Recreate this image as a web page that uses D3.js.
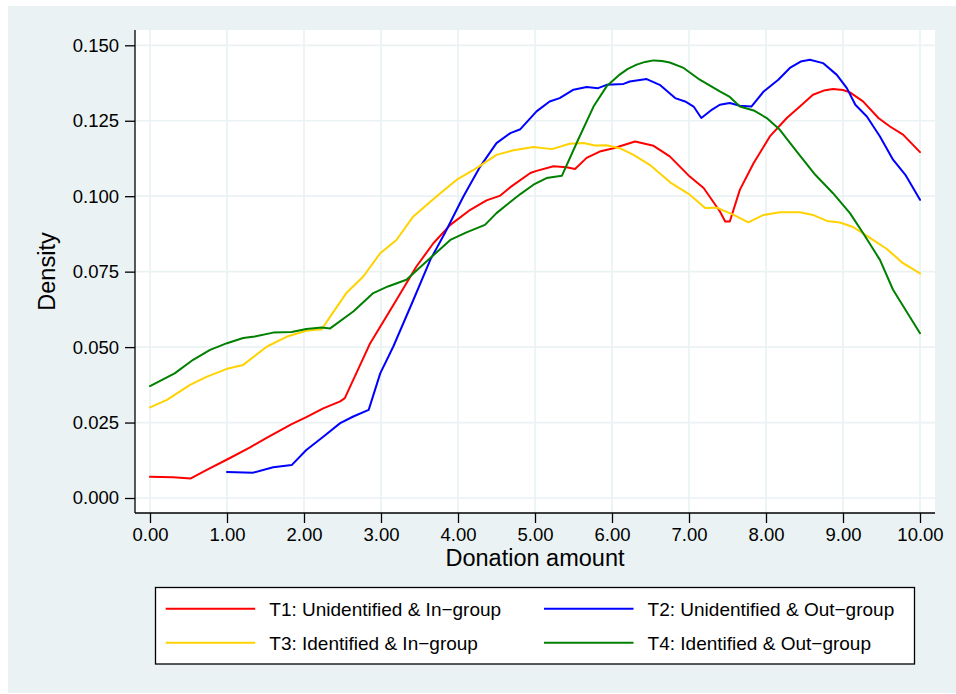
<!DOCTYPE html>
<html>
<head>
<meta charset="utf-8">
<script src="https://cdn.jsdelivr.net/npm/d3@7"></script>
<style>
  html, body { margin: 0; padding: 0; background: #ffffff; }
  svg { display: block; font-family: "Liberation Sans", Arial, Helvetica, sans-serif; }
</style>
</head>
<body>
<svg id="chart" width="956" height="694"></svg>
<script>
// Kernel density of donation amount by treatment, evaluated as [amount, density]
const t1Unidentified_In = [
  [0.00, 0.0070], [0.30, 0.0069], [0.53, 0.0065], [0.75, 0.0095], [1.02, 0.0130],
  [1.30, 0.0168], [1.52, 0.0200], [1.84, 0.0245], [2.03, 0.0268], [2.25, 0.0297],
  [2.47, 0.0320], [2.53, 0.0331], [2.86, 0.0513], [3.20, 0.0656], [3.46, 0.0767],
  [3.68, 0.0844], [3.90, 0.0905], [4.16, 0.0955], [4.37, 0.0986], [4.55, 0.1002],
  [4.68, 0.1030], [4.94, 0.1077], [5.02, 0.1084], [5.24, 0.1099], [5.41, 0.1096],
  [5.52, 0.1090], [5.67, 0.1127], [5.84, 0.1148], [6.02, 0.1159], [6.30, 0.1181],
  [6.54, 0.1167], [6.75, 0.1132], [7.01, 0.1065], [7.19, 0.1027], [7.40, 0.0950],
  [7.47, 0.0916], [7.53, 0.0916], [7.66, 0.1021], [7.84, 0.1110], [8.05, 0.1198],
  [8.27, 0.1259], [8.44, 0.1297], [8.61, 0.1336], [8.75, 0.1350], [8.87, 0.1355],
  [9.00, 0.1352], [9.09, 0.1344], [9.26, 0.1314], [9.46, 0.1259], [9.61, 0.1231],
  [9.78, 0.1204], [10.00, 0.1146]
];
const t2Unidentified_Out = [
  [1.00, 0.0086], [1.34, 0.0084], [1.60, 0.0102], [1.84, 0.0109], [2.03, 0.0159],
  [2.25, 0.0203], [2.47, 0.0248], [2.64, 0.0270], [2.84, 0.0292], [2.99, 0.0413],
  [3.16, 0.0502], [3.42, 0.0656], [3.64, 0.0789], [3.83, 0.0878], [4.07, 0.0999],
  [4.29, 0.1099], [4.50, 0.1176], [4.68, 0.1209], [4.81, 0.1222], [5.02, 0.1281],
  [5.19, 0.1314], [5.32, 0.1325], [5.50, 0.1353], [5.67, 0.1362], [5.82, 0.1358],
  [5.93, 0.1369], [6.15, 0.1372], [6.23, 0.1380], [6.45, 0.1388], [6.62, 0.1369],
  [6.82, 0.1325], [6.95, 0.1314], [7.06, 0.1297], [7.16, 0.1259], [7.30, 0.1287],
  [7.40, 0.1303], [7.53, 0.1309], [7.66, 0.1300], [7.81, 0.1297], [7.97, 0.1347],
  [8.16, 0.1386], [8.31, 0.1425], [8.45, 0.1446], [8.57, 0.1452], [8.74, 0.1441],
  [8.92, 0.1402], [9.05, 0.1358], [9.16, 0.1303], [9.31, 0.1264], [9.48, 0.1198],
  [9.65, 0.1121], [9.81, 0.1071], [10.00, 0.0988]
];
const t3Identified_In = [
  [0.00, 0.0300], [0.22, 0.0325], [0.52, 0.0375], [0.74, 0.0402], [1.00, 0.0428],
  [1.21, 0.0441], [1.52, 0.0502], [1.78, 0.0535], [2.03, 0.0554], [2.23, 0.0559],
  [2.34, 0.0601], [2.55, 0.0679], [2.77, 0.0734], [2.99, 0.0811], [3.20, 0.0855],
  [3.42, 0.0933], [3.72, 0.0999], [3.98, 0.1054], [4.24, 0.1093], [4.50, 0.1137],
  [4.72, 0.1152], [4.98, 0.1163], [5.22, 0.1156], [5.45, 0.1174], [5.63, 0.1176],
  [5.78, 0.1168], [5.93, 0.1169], [6.10, 0.1159], [6.28, 0.1137], [6.49, 0.1104],
  [6.77, 0.1043], [7.01, 0.1005], [7.21, 0.0961], [7.36, 0.0962], [7.58, 0.0938],
  [7.77, 0.0913], [7.97, 0.0938], [8.18, 0.0947], [8.44, 0.0947], [8.61, 0.0938],
  [8.79, 0.0918], [8.96, 0.0913], [9.13, 0.0898], [9.35, 0.0862], [9.57, 0.0825],
  [9.78, 0.0778], [10.00, 0.0744]
];
const t4Identified_Out = [
  [0.00, 0.0371], [0.32, 0.0413], [0.56, 0.0458], [0.78, 0.0491], [1.00, 0.0513],
  [1.21, 0.0530], [1.36, 0.0535], [1.60, 0.0548], [1.84, 0.0550], [2.03, 0.0560],
  [2.23, 0.0565], [2.34, 0.0562], [2.64, 0.0618], [2.90, 0.0679], [3.09, 0.0701],
  [3.33, 0.0723], [3.64, 0.0795], [3.90, 0.0855], [4.11, 0.0880], [4.35, 0.0905],
  [4.50, 0.0944], [4.63, 0.0971], [4.81, 0.1007], [4.98, 0.1038], [5.15, 0.1060],
  [5.35, 0.1068], [5.56, 0.1187], [5.76, 0.1297], [5.93, 0.1364], [6.10, 0.1403],
  [6.20, 0.1421], [6.32, 0.1436], [6.43, 0.1445], [6.54, 0.1450], [6.65, 0.1448],
  [6.75, 0.1443], [6.93, 0.1425], [7.14, 0.1386], [7.40, 0.1347], [7.53, 0.1329],
  [7.66, 0.1297], [7.84, 0.1284], [8.01, 0.1259], [8.18, 0.1220], [8.40, 0.1148],
  [8.64, 0.1071], [8.87, 0.1010], [9.09, 0.0944], [9.26, 0.0878], [9.48, 0.0789],
  [9.65, 0.0690], [10.00, 0.0546]
];

const seriesLabels = [
  "T1: Unidentified & In\u2212group",
  "T2: Unidentified & Out\u2212group",
  "T3: Identified & In\u2212group",
  "T4: Identified & Out\u2212group"
];
const seriesColors = ["#ff0000", "#0000ff", "#ffd200", "#008000"];
const seriesData = [t1Unidentified_In, t2Unidentified_Out, t3Identified_In, t4Identified_Out];

const xTicks = [0, 1, 2, 3, 4, 5, 6, 7, 8, 9, 10];
const yTicks = [0, 0.025, 0.05, 0.075, 0.1, 0.125, 0.15];
const xTitle = "Donation amount";
const yTitle = "Density";

const svg = d3.select("#chart");
const bg = "#eaf2f3";

// Outer panel
svg.append("rect").attr("x", 8).attr("y", 6).attr("width", 948).attr("height", 687).attr("fill", bg);

// Plot region
const plot = { left: 135, right: 935, top: 30, bottom: 513 };
svg.append("rect")
  .attr("x", plot.left).attr("y", plot.top)
  .attr("width", plot.right - plot.left).attr("height", plot.bottom - plot.top)
  .attr("fill", "#ffffff");

const x = d3.scaleLinear().domain([0, 10]).range([150, 920]);
const y = d3.scaleLinear().domain([0, 0.15]).range([498, 45.3]);

// Grid lines
const grid = svg.append("g").attr("stroke", bg).attr("stroke-width", 1.7);
grid.selectAll("line.v").data(xTicks).join("line")
  .attr("class", "v")
  .attr("x1", d => x(d)).attr("x2", d => x(d))
  .attr("y1", plot.top).attr("y2", plot.bottom);
grid.selectAll("line.h").data(yTicks).join("line")
  .attr("class", "h")
  .attr("x1", plot.left).attr("x2", plot.right)
  .attr("y1", d => y(d)).attr("y2", d => y(d));

// Density curves
const line = d3.line().x(d => x(d[0])).y(d => y(d[1])).curve(d3.curveLinear);
svg.append("g").selectAll("path").data(seriesData).join("path")
  .attr("d", d => line(d))
  .attr("fill", "none")
  .attr("stroke", (d, i) => seriesColors[i])
  .attr("stroke-width", 2)
  .attr("stroke-linejoin", "round")
  .attr("stroke-linecap", "round");

// Axes
const yAxis = d3.axisLeft(y).tickValues(yTicks).tickFormat(d3.format(".3f")).tickSize(10).tickPadding(6);
const gy = svg.append("g").attr("transform", `translate(${plot.left},0)`).call(yAxis);
gy.select(".domain").remove();
gy.append("line").attr("x1", 0).attr("x2", 0).attr("y1", plot.top).attr("y2", plot.bottom)
  .attr("stroke", "#000").attr("stroke-width", 1.3);

const xAxis = d3.axisBottom(x).tickValues(xTicks).tickFormat(d3.format(".2f")).tickSize(10).tickPadding(5);
const gx = svg.append("g").attr("transform", `translate(0,${plot.bottom})`).call(xAxis);
gx.select(".domain").remove();
gx.append("line").attr("x1", plot.left).attr("x2", plot.right).attr("y1", 0).attr("y2", 0)
  .attr("stroke", "#000").attr("stroke-width", 1.3);

[gx, gy].forEach(g => {
  g.selectAll(".tick line").attr("stroke", "#000").attr("stroke-width", 1.3);
  g.selectAll(".tick text").attr("fill", "#000")
    .style("font-family", "'Liberation Sans', Arial, sans-serif").style("font-size", "18.5px");
});

// Axis titles
svg.append("text")
  .attr("x", (plot.left + plot.right) / 2).attr("y", 566)
  .attr("text-anchor", "middle").attr("font-size", "23.5px").attr("fill", "#000")
  .text(xTitle);
svg.append("text")
  .attr("transform", `translate(55,${(plot.top + plot.bottom) / 2}) rotate(-90)`)
  .attr("text-anchor", "middle").attr("font-size", "23.5px").attr("fill", "#000")
  .text(yTitle);

// Legend
const legend = svg.append("g");
legend.append("rect")
  .attr("x", 155.5).attr("y", 587.5).attr("width", 759).attr("height", 76.5)
  .attr("fill", "#fff").attr("stroke", "#000").attr("stroke-width", 1.3);
const legCols = [165.7, 544];
const legRows = [608.7, 642.7];
seriesLabels.forEach((lab, i) => {
  const cx = legCols[i % 2], cy = legRows[Math.floor(i / 2)];
  legend.append("line")
    .attr("x1", cx).attr("x2", cx + 89.5).attr("y1", cy).attr("y2", cy)
    .attr("stroke", seriesColors[i]).attr("stroke-width", 2);
  legend.append("text")
    .attr("x", cx + 103.6).attr("y", cy + 6.8)
    .attr("font-size", "19px").attr("fill", "#000")
    .text(lab);
});
</script>
</body>
</html>
